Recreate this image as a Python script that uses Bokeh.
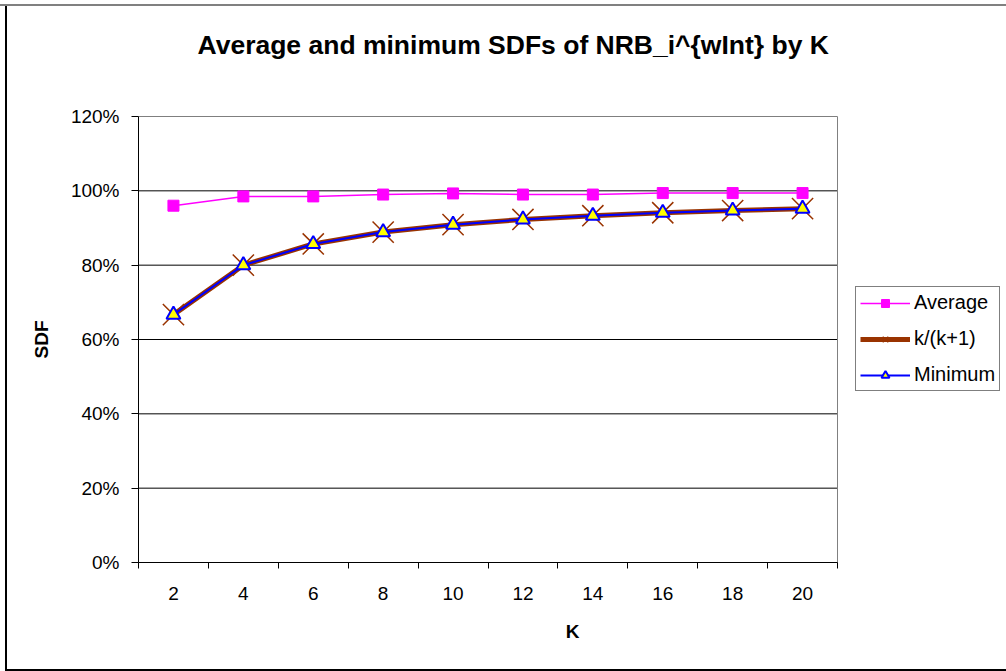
from bokeh.plotting import figure
from bokeh.models import FixedTicker, NumeralTickFormatter, Legend, LegendItem, Range1d
from bokeh.embed import file_html
from bokeh.resources import INLINE

k_labels = ["2", "4", "6", "8", "10", "12", "14", "16", "18", "20"]
average = [0.960, 0.985, 0.985, 0.990, 0.993, 0.990, 0.990, 0.994, 0.994, 0.994]
ratio = [0.667, 0.800, 0.857, 0.889, 0.909, 0.923, 0.933, 0.941, 0.947, 0.952]
minimum = [0.667, 0.800, 0.857, 0.889, 0.909, 0.923, 0.933, 0.941, 0.947, 0.952]
y_ticks = [0.0, 0.2, 0.4, 0.6, 0.8, 1.0, 1.2]

xs = list(range(1, len(k_labels) + 1))
x_lo, x_hi = 0.5, len(k_labels) + 0.5

FONT = "Liberation Sans"

# layout (pixels): frame spans the full width right of the y axis so that the
# legend (outside the plot area) is not clipped; plot area ends at PA_RIGHT.
W, H = 1006, 671
LEFT, TOP, BOTTOM = 138, 115, 109
PA_RIGHT = 837
x_end = x_lo + (W - LEFT) / (PA_RIGHT - LEFT) * (x_hi - x_lo)

p = figure(width=W, height=H, output_backend="svg", toolbar_location=None,
           x_range=Range1d(x_lo, x_end), y_range=Range1d(y_ticks[0], y_ticks[-1]),
           min_border_left=LEFT, min_border_right=0, min_border_top=TOP,
           min_border_bottom=BOTTOM)
p.styles = {"box-shadow": ("inset 0 4px 0 0 white, inset 0 6px 0 0 #808080, "
                           "inset 5px 0 0 0 white, inset 7px 0 0 0 black, "
                           "inset 0 -2px 0 0 black")}

p.title.text = "Average and minimum SDFs of NRB_i^{wInt} by K\n "
p.title.text_font = FONT
p.title.text_font_size = "26.5px"
p.title.text_font_style = "bold"
p.title.text_color = "black"
p.title.align = "left"
p.title.offset = 59
p.title.standoff = 54

p.outline_line_color = None
p.background_fill_color = "white"
p.border_fill_alpha = 0

# x axis
p.xaxis.bounds = (x_lo, x_hi)
p.xaxis.ticker = FixedTicker(ticks=xs, minor_ticks=[x - 0.5 for x in xs] + [x_hi])
p.xaxis.major_label_overrides = {x: lab for x, lab in zip(xs, k_labels)}
p.xaxis.major_tick_line_color = None
p.xaxis.major_tick_out = 0
p.xaxis.minor_tick_out = 6
p.xaxis.minor_tick_in = 0
p.xaxis.minor_tick_line_color = "black"
p.xaxis.axis_line_color = "black"
p.xaxis.major_label_standoff = 18
p.xaxis.major_label_text_font = FONT
p.xaxis.major_label_text_font_size = "19px"
p.xaxis.major_label_text_color = "black"
p.xaxis.axis_label = "K"
p.xaxis.axis_label_text_font = FONT
p.xaxis.axis_label_text_font_size = "19px"
p.xaxis.axis_label_text_font_style = "bold"
p.xaxis.axis_label_text_color = "black"
p.xaxis.axis_label_standoff = 18

# y axis
p.yaxis.ticker = FixedTicker(ticks=y_ticks, minor_ticks=[])
p.yaxis.formatter = NumeralTickFormatter(format="0%")
p.yaxis.major_tick_out = 7
p.yaxis.major_tick_in = 0
p.yaxis.major_tick_line_color = "black"
p.yaxis.axis_line_color = "black"
p.yaxis.major_label_standoff = 12
p.yaxis.major_label_text_font = FONT
p.yaxis.major_label_text_font_size = "19px"
p.yaxis.major_label_text_color = "black"
p.yaxis.axis_label = "SDF"
p.yaxis.axis_label_text_font = FONT
p.yaxis.axis_label_text_font_size = "19px"
p.yaxis.axis_label_text_font_style = "bold"
p.yaxis.axis_label_text_color = "black"
p.yaxis.axis_label_standoff = 16

p.xgrid.grid_line_color = None
p.ygrid.grid_line_color = None

# gridlines and plot-area border, limited to the plot area
p.segment(x0=[x_lo] * len(y_ticks), x1=[x_hi] * len(y_ticks), y0=y_ticks, y1=y_ticks,
          line_color="black", line_width=1)
p.quad(left=[x_lo], right=[x_hi], bottom=[y_ticks[0]], top=[y_ticks[-1]],
       fill_color=None, line_color="#808080", line_width=1)

# series
avg_line = p.line(xs, average, line_color="#FF00FF", line_width=1.5)
avg_pts = p.scatter(xs, average, marker="square", size=11, fill_color="#FF00FF",
                    line_color="#FF00FF")

rat_line = p.line(xs, ratio, line_color="#993300", line_width=5)
rat_pts = p.scatter(xs, ratio, marker="x", size=30, line_color="#993300", line_width=1.5)

min_line = p.line(xs, minimum, line_color="#0000FF", line_width=2)
min_pts = p.scatter(xs, minimum, marker="triangle", size=14, fill_color="#FFFF00",
                    line_color="#0000FF", line_width=2)

legend = Legend(items=[
    LegendItem(label="Average", renderers=[avg_line, avg_pts]),
    LegendItem(label="k/(k+1)", renderers=[rat_line, rat_pts]),
    LegendItem(label="Minimum", renderers=[min_line, min_pts]),
], location=(855 - LEFT, H - BOTTOM - 391))
legend.label_text_font = FONT
legend.label_text_font_size = "20px"
legend.label_text_color = "black"
legend.glyph_width = 50
legend.glyph_height = 20
legend.label_height = 20
legend.label_standoff = 4
legend.spacing = 13
legend.padding = 4
legend.margin = 0
legend.border_line_color = "black"
legend.border_line_width = 1
legend.background_fill_color = "white"
p.add_layout(legend, "center")

open("out.html", "w").write(file_html(p, INLINE))
